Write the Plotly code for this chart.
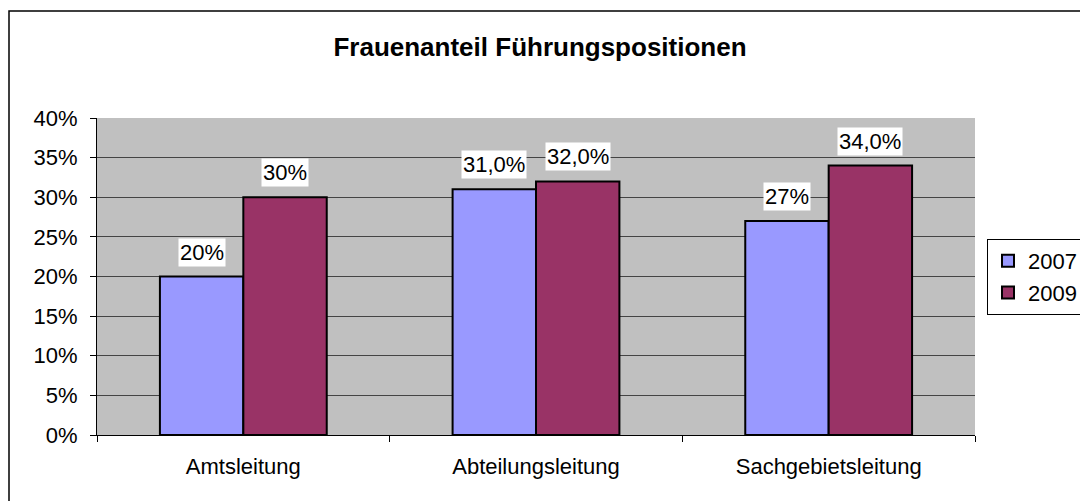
import plotly.graph_objects as go

categories = ["Amtsleitung", "Abteilungsleitung", "Sachgebietsleitung"]
values_2007 = [0.20, 0.31, 0.27]
values_2009 = [0.30, 0.32, 0.34]
labels_2007 = ["20%", "31,0%", "27%"]
labels_2009 = ["30%", "32,0%", "34,0%"]
y_ticks = [0, 0.05, 0.10, 0.15, 0.20, 0.25, 0.30, 0.35, 0.40]
y_tick_labels = ["0%", "5%", "10%", "15%", "20%", "25%", "30%", "35%", "40%"]

FONT = "Liberation Sans, Arial, sans-serif"
W, H = 1080, 501
L, R, T, B = 97, 105, 118, 66
plot_w = W - L - R
plot_h = H - T - B
bargap = 0.43
bar_px = plot_w / 3 * (1 - bargap) / 2
FS = 22

fig = go.Figure()
fig.add_trace(go.Bar(name="2007", x=categories, y=values_2007,
                     marker=dict(color="#9999FF", line=dict(color="black", width=2))))
fig.add_trace(go.Bar(name="2009", x=categories, y=values_2009,
                     marker=dict(color="#993366", line=dict(color="black", width=2))))

annotations = []
for vals, labs, sign in ((values_2007, labels_2007, -1), (values_2009, labels_2009, 1)):
    for cat, v, lab in zip(categories, vals, labs):
        annotations.append(dict(x=cat, y=v, text=lab, xref="x", yref="y", showarrow=False,
                                xshift=sign * bar_px / 2, yshift=10, yanchor="bottom",
                                bgcolor="white", borderpad=1,
                                font=dict(family=FONT, size=FS, color="black")))

# outer chart border (extends past the right/bottom edges like the reference)
fig.add_shape(type="rect", xref="paper", yref="paper",
              x0=(9 - L) / plot_w, x1=(W + 5 - L) / plot_w,
              y0=-(B + 5) / plot_h, y1=(H - B - 11) / plot_h,
              line=dict(color="black", width=1.5), fillcolor="rgba(0,0,0,0)", layer="below")

fig.update_layout(
    width=W, height=H,
    margin=dict(l=L, r=R, t=T, b=B, autoexpand=False),
    paper_bgcolor="white",
    plot_bgcolor="#C0C0C0",
    barmode="group",
    bargap=bargap,
    bargroupgap=0,
    title=dict(text="<b>Frauenanteil Führungspositionen</b>", x=0.5, xanchor="center",
               y=(H - 47) / H, yanchor="middle",
               font=dict(family=FONT, size=26, color="black")),
    font=dict(family=FONT, size=FS, color="black"),
    annotations=annotations,
    legend=dict(x=(987 - L) / plot_w, y=(H - B - 277) / plot_h, xanchor="left", yanchor="middle",
                bgcolor="white", bordercolor="black", borderwidth=1,
                font=dict(family=FONT, size=FS, color="black"),
                itemwidth=30, tracegroupgap=0),
    xaxis=dict(showline=True, linecolor="black", linewidth=1,
               ticks="outside", tickson="boundaries", ticklen=6, tickcolor="black",
               ticklabelstandoff=12,
               showgrid=False, tickfont=dict(family=FONT, size=FS, color="black")),
    yaxis=dict(range=[0, 0.4], tickvals=y_ticks, ticktext=y_tick_labels,
               showline=True, linecolor="black", linewidth=1,
               ticks="outside", ticklen=6, tickcolor="black",
               ticklabelstandoff=8,
               showgrid=True, gridcolor="#444444", gridwidth=1,
               zeroline=False, tickfont=dict(family=FONT, size=FS, color="black")),
)

fig.write_html("out.html", config={"displayModeBar": False},
               post_script="document.body.style.margin='0';")
